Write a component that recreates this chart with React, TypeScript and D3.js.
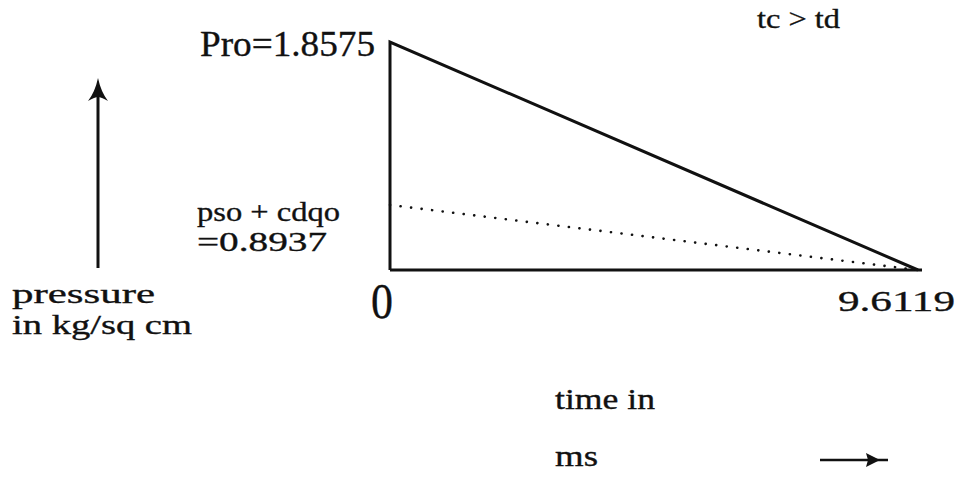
import React from "react";
import * as d3 from "d3";

// Idealised blast-load pressure–time history (triangular pulse)
const timeMs = [0, 9.6119];
const reflectedPressure = [1.8575, 0]; // Pro, kg/sq cm
const sideOnPlusDrag = [0.8937, 0]; // pso + cd·qo, kg/sq cm

const proLabel = "Pro=1.8575";
const psoLabel = ["pso + cdqo", "=0.8937"];
const originLabel = "0";
const endLabel = "9.6119";
const conditionLabel = "tc > td";
const yTitle = ["pressure", "in kg/sq cm"];
const xTitle = ["time in", "ms"];

const W = 961;
const H = 493;

export default function App() {
  const x = d3.scaleLinear().domain([0, timeMs[1]]).range([390, 918]);
  // schematic (not-to-scale) pressure axis: piecewise linear through the two labelled levels
  const y = d3
    .scaleLinear()
    .domain([0, sideOnPlusDrag[0], reflectedPressure[0]])
    .range([270, 205, 42]);

  const line = d3
    .line<[number, number]>()
    .x((d) => x(d[0]))
    .y((d) => y(d[1]));

  const pulse: [number, number][] = [
    [0, 0],
    [0, reflectedPressure[0]],
    [timeMs[1], reflectedPressure[1]],
  ];
  const dotted: [number, number][] = [
    [0, sideOnPlusDrag[0]],
    [timeMs[1], sideOnPlusDrag[1]],
  ];

  const txt = (size: number): React.CSSProperties => ({
    fontFamily: "'Times New Roman', Times, 'Liberation Serif', serif",
    fontSize: size,
    fill: "#111",
    stroke: "#111",
    strokeWidth: 0.35,
  });

  return (
    <svg
      width={W}
      height={H}
      viewBox={`0 0 ${W} ${H}`}
      style={{ position: "absolute", left: 0, top: 0, background: "#fff" }}
    >
      <rect width={W} height={H} fill="#fff" />

      {/* time axis */}
      <line x1={x(0)} y1={y(0)} x2={x(timeMs[1]) + 4} y2={y(0)} stroke="#111" strokeWidth={3} />
      {/* triangular reflected-pressure pulse */}
      <path d={line(pulse) ?? ""} fill="none" stroke="#111" strokeWidth={3} strokeLinejoin="miter" />
      {/* side-on + drag pressure decay */}
      <path
        d={line(dotted) ?? ""}
        fill="none"
        stroke="#111"
        strokeWidth={2.6}
        strokeLinecap="round"
        strokeDasharray="0.1 10.5"
      />

      {/* labels on the pulse */}
      <text x={200} y={56} style={txt(35)} textLength={175} lengthAdjust="spacingAndGlyphs">{proLabel}</text>
      <text x={197} y={221} style={txt(28)} textLength={143} lengthAdjust="spacingAndGlyphs">{psoLabel[0]}</text>
      <text x={197} y={251} style={txt(28)} textLength={130} lengthAdjust="spacingAndGlyphs">{psoLabel[1]}</text>
      <text x={371} y={318} style={txt(50)} textLength={22} lengthAdjust="spacingAndGlyphs">{originLabel}</text>
      <text x={838} y={311} style={txt(30)} textLength={117} lengthAdjust="spacingAndGlyphs">{endLabel}</text>
      <text x={757} y={28} style={txt(27)} textLength={83} lengthAdjust="spacingAndGlyphs">{conditionLabel}</text>

      {/* pressure direction arrow */}
      <line x1={98} y1={268} x2={98} y2={88} stroke="#111" strokeWidth={3} />
      <path d="M98,78 Q95,92 88,101 Q95,97 98,97 Q101,97 108,101 Q101,92 98,78 Z" fill="#111" />
      <text x={12} y={303} style={txt(28)} textLength={143} lengthAdjust="spacingAndGlyphs">{yTitle[0]}</text>
      <text x={12} y={334} style={txt(28)} textLength={180} lengthAdjust="spacingAndGlyphs">{yTitle[1]}</text>

      {/* time direction arrow */}
      <line x1={820} y1={460} x2={888} y2={460} stroke="#111" strokeWidth={2.5} />
      <path d="M880,460 L866,453 L868,460 L866,467 Z" fill="#111" />
      <text x={555} y={409} style={txt(30)} textLength={100} lengthAdjust="spacingAndGlyphs">{xTitle[0]}</text>
      <text x={555} y={466} style={txt(30)} textLength={43} lengthAdjust="spacingAndGlyphs">{xTitle[1]}</text>
    </svg>
  );
}
